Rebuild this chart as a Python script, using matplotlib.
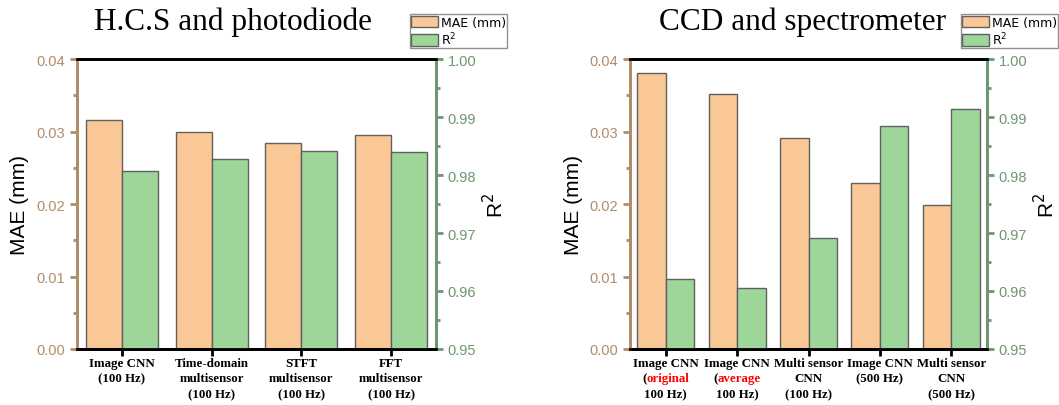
import matplotlib
matplotlib.use('Agg')
import matplotlib.pyplot as plt
import numpy as np
from matplotlib.offsetbox import TextArea, HPacker, VPacker, AnnotationBbox
from matplotlib.ticker import MultipleLocator, FormatStrFormatter
from matplotlib.patches import Patch

# data
# each tick label is a list of lines, each line a list of (text, colour) pieces
left_title = 'H.C.S and photodiode'
left_labels = [[[('Image CNN', 'k')], [('(100 Hz)', 'k')]],
               [[('Time-domain', 'k')], [('multisensor', 'k')], [('(100 Hz)', 'k')]],
               [[('STFT', 'k')], [('multisensor', 'k')], [('(100 Hz)', 'k')]],
               [[('FFT', 'k')], [('multisensor', 'k')], [('(100 Hz)', 'k')]]]
left_mae = [0.0316, 0.0300, 0.0284, 0.0295]
left_r2 = [0.9807, 0.9827, 0.9841, 0.9840]

right_title = 'CCD and spectrometer'
right_labels = [[[('Image CNN', 'k')], [('(', 'k'), ('original', 'red')], [('100 Hz)', 'k')]],
                [[('Image CNN', 'k')], [('(', 'k'), ('average', 'red')], [('100 Hz)', 'k')]],
                [[('Multi sensor', 'k')], [('CNN', 'k')], [('(100 Hz)', 'k')]],
                [[('Image CNN', 'k')], [('(500 Hz)', 'k')]],
                [[('Multi sensor', 'k')], [('CNN', 'k')], [('(500 Hz)', 'k')]]]
right_mae = [0.0381, 0.0352, 0.0291, 0.0229, 0.0199]
right_r2 = [0.9620, 0.9606, 0.9691, 0.9885, 0.9914]

mae_col = '#FAC896'
r2_col = '#9ED69A'
edge = '#606060'
brown = '#B08C6A'
green = '#6E9670'

fig = plt.figure(figsize=(10.59, 4.06), dpi=100)


def panel(rect, title, title_x, labels, mae, r2):
    ax = fig.add_axes(rect)
    ax2 = ax.twinx()
    x = np.arange(len(mae))
    w = 0.4
    ax.bar(x - w / 2, mae, w, color=mae_col, edgecolor=edge, linewidth=1, zorder=2)
    ax2.bar(x + w / 2, r2, w, color=r2_col, edgecolor=edge, linewidth=1, zorder=2)
    ax.set_xlim(-0.5, len(mae) - 0.5)
    ax.set_ylim(0, 0.04)
    ax2.set_ylim(0.95, 1.0)

    ax.yaxis.set_major_locator(MultipleLocator(0.01))
    ax.yaxis.set_minor_locator(MultipleLocator(0.005))
    ax.yaxis.set_major_formatter(FormatStrFormatter('%.2f'))
    ax2.yaxis.set_major_locator(MultipleLocator(0.01))
    ax2.yaxis.set_minor_locator(MultipleLocator(0.005))
    ax2.yaxis.set_major_formatter(FormatStrFormatter('%.2f'))

    for a in (ax, ax2):
        for s in a.spines.values():
            s.set_linewidth(2)
        a.spines['top'].set_color('k')
        a.spines['bottom'].set_color('k')
        a.spines['left'].set_color(brown)
        a.spines['right'].set_color(green)
    ax.tick_params(axis='y', which='both', colors=brown, labelsize=10.5, width=2,
                   labelfontfamily='Liberation Sans')
    ax.tick_params(axis='y', which='major', length=5)
    ax.tick_params(axis='y', which='minor', length=3)
    ax2.tick_params(axis='y', which='both', colors=green, labelsize=10.5, width=2,
                    labelfontfamily='Liberation Sans')
    ax2.tick_params(axis='y', which='major', length=5)
    ax2.tick_params(axis='y', which='minor', length=3)
    ax.tick_params(axis='x', length=5, width=2, labelbottom=False)
    ax.set_xticks(x)

    ax.set_ylabel('MAE (mm)', fontsize=15, family='Liberation Sans', labelpad=5)
    ax2.set_ylabel('R$^2$', fontsize=15, family='Liberation Sans', labelpad=4)

    # multi-coloured tick labels
    tp = dict(fontsize=9.3, family='Liberation Serif', weight='bold')
    for i, lab in enumerate(labels):
        rows = []
        for line in lab:
            parts = [TextArea(t, textprops=dict(color=c, **tp)) for t, c in line]
            rows.append(HPacker(children=parts, align='baseline', pad=0, sep=0))
        box = VPacker(children=rows, align='center', pad=0, sep=2.6)
        ab = AnnotationBbox(box, (i, 0), xycoords=ax.get_xaxis_transform(),
                            xybox=(0, -5.5), boxcoords='offset points',
                            box_alignment=(0.5, 1), frameon=False, pad=0,
                            annotation_clip=False)
        ax.add_artist(ab)

    fig.text(title_x, 0.945, title, fontsize=22.5, family='Liberation Serif',
             ha='center', va='center')

    handles = [Patch(facecolor=mae_col, edgecolor=edge, label='MAE (mm)'),
               Patch(facecolor=r2_col, edgecolor=edge, label='R$^2$')]
    r = rect[0] + rect[2]
    leg = fig.legend(handles=handles, loc='upper left',
                     bbox_to_anchor=(r - 0.025, 0.962), fontsize=9,
                     frameon=True, fancybox=False, borderpad=0.1,
                     handlelength=2.2, handleheight=1.05, handletextpad=0.2,
                     labelspacing=0.15, borderaxespad=0)
    leg.get_frame().set_edgecolor('#777777')
    leg.get_frame().set_linewidth(1)
    return ax, ax2


panel([0.0727, 0.138, 0.339, 0.714], left_title, 0.22, left_labels, left_mae, left_r2)
panel([0.595, 0.138, 0.337, 0.714], right_title, 0.758, right_labels, right_mae, right_r2)

plt.savefig('out.png', dpi=100)
